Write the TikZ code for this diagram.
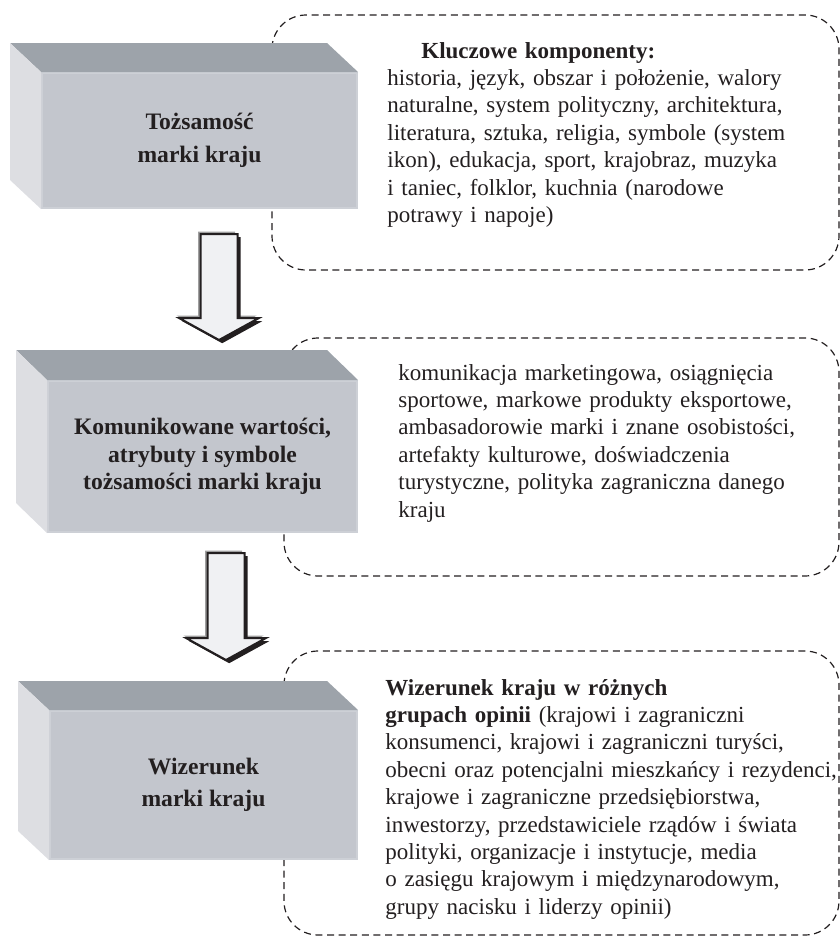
\documentclass[tikz,border=0pt]{standalone}
\usepackage{fontspec}
\setmainfont{Liberation Serif}
\usepackage{xcolor}
\usepackage{tikz}
\usetikzlibrary{calc}

\definecolor{boxtop}{HTML}{9DA3AA}
\definecolor{boxfront}{HTML}{C3C6CD}
\definecolor{boxside}{HTML}{DDDEE2}
\definecolor{boxedge}{HTML}{CDD0D6}
\definecolor{arrowfill}{HTML}{F0F1F3}
\definecolor{ink}{HTML}{231F20}

\newcommand{\blockarrow}[3]{%
  \path[#3] ($(#1)+(-18.5,0)$) -- ($(#2)+(-18.5,-22)$) -- ($(#2)+(-40,-22)$) -- (#2)
    -- ($(#2)+(40,-22)$) -- ($(#2)+(18.5,-22)$) -- ($(#1)+(18.5,0)$) -- cycle;}

\begin{document}
\begin{tikzpicture}[
  x=0.5pt,y=-0.5pt,
  font=\fontsize{11.5pt}{13.7pt}\selectfont,
  front/.style={draw=boxedge,line width=1pt,fill=boxfront,align=center,inner sep=0pt,
    text=ink,font=\fontsize{11.8pt}{13.7pt}\selectfont\bfseries},
  topface/.style={fill=boxtop},
  sideface/.style={fill=boxside},
  frame/.style={draw=ink,line width=0.6pt,dash pattern=on 3.5pt off 2.3pt,rounded corners=17pt},
  body/.style={anchor=base west,align=left,inner sep=0pt,text width=240pt,text=ink},
  arrowrim/.style={fill=gray!75,transform canvas={shift={(-1.2pt,1.2pt)}}},
  arrowshadow/.style={fill=ink,transform canvas={shift={(1.6pt,-1.6pt)}}},
  arrowbody/.style={fill=arrowfill,draw=ink,line width=1pt}
]
\useasboundingbox (0,0) rectangle (840,938);

\draw[frame] (272,15) rectangle (839,270);
\draw[frame] (284,338) rectangle (839,576);
\draw[frame] (284,651) rectangle (839,935);

\node[front,minimum width=157.5pt,minimum height=67.5pt] (b1) at (199.5,140.5)
  {Tożsamość\\[3pt]marki kraju};
\fill[topface] (b1.north west) -- ++(-31,-29) -- ($(b1.north east)+(-31,-29)$) -- (b1.north east) -- cycle;
\fill[sideface] (b1.north west) -- ++(-31,-29) -- ($(b1.south west)+(-31,-29)$) -- (b1.south west) -- cycle;

\node[front,minimum width=154.5pt,minimum height=75.5pt] (b2) at (202.5,456.5)
  {Komunikowane wartości,\\atrybuty i symbole\\tożsamości marki kraju};
\fill[topface] (b2.north west) -- ++(-31,-30) -- ($(b2.north east)+(-31,-30)$) -- (b2.north east) -- cycle;
\fill[sideface] (b2.north west) -- ++(-31,-30) -- ($(b2.south west)+(-31,-30)$) -- (b2.south west) -- cycle;

\node[front,minimum width=153.5pt,minimum height=74pt] (b3) at (203.5,785)
  {Wizerunek\\[2pt]marki kraju};
\fill[topface] (b3.north west) -- ++(-31,-29) -- ($(b3.north east)+(-31,-29)$) -- (b3.north east) -- cycle;
\fill[sideface] (b3.north west) -- ++(-31,-29) -- ($(b3.south west)+(-31,-29)$) -- (b3.south west) -- cycle;

\node[body] (k1) at (387,58) {%
  \hspace*{17pt}\textbf{Kluczowe komponenty:}\\
  historia, język, obszar i położenie, walory\\
  naturalne, system polityczny, architektura,\\
  literatura, sztuka, religia, symbole (system\\
  ikon), edukacja, sport, krajobraz, muzyka\\
  i taniec, folklor, kuchnia (narodowe\\
  potrawy i napoje)};

\node[body] (k2) at (398,380) {%
  komunikacja marketingowa, osiągnięcia\\
  sportowe, markowe produkty eksportowe,\\
  ambasadorowie marki i znane osobistości,\\
  artefakty kulturowe, doświadczenia\\
  turystyczne, polityka zagraniczna danego\\
  kraju};

\node[body] (k3) at (385,695) {%
  \textbf{Wizerunek kraju w różnych}\\
  \textbf{grupach opinii} (krajowi i zagraniczni\\
  konsumenci, krajowi i zagraniczni turyści,\\
  obecni oraz potencjalni mieszkańcy i rezydenci,\\
  krajowe i zagraniczne przedsiębiorstwa,\\
  inwestorzy, przedstawiciele rządów i świata\\
  polityki, organizacje i instytucje, media\\
  o zasięgu krajowym i międzynarodowym,\\
  grupy nacisku i liderzy opinii)};

\coordinate (a1top) at (219,234);
\coordinate (a1tip) at (219,340);
\coordinate (a2top) at (226,553);
\coordinate (a2tip) at (226,660);
\blockarrow{a1top}{a1tip}{arrowrim}
\blockarrow{a1top}{a1tip}{arrowshadow}
\blockarrow{a1top}{a1tip}{arrowbody}
\blockarrow{a2top}{a2tip}{arrowrim}
\blockarrow{a2top}{a2tip}{arrowshadow}
\blockarrow{a2top}{a2tip}{arrowbody}
\end{tikzpicture}
\end{document}
